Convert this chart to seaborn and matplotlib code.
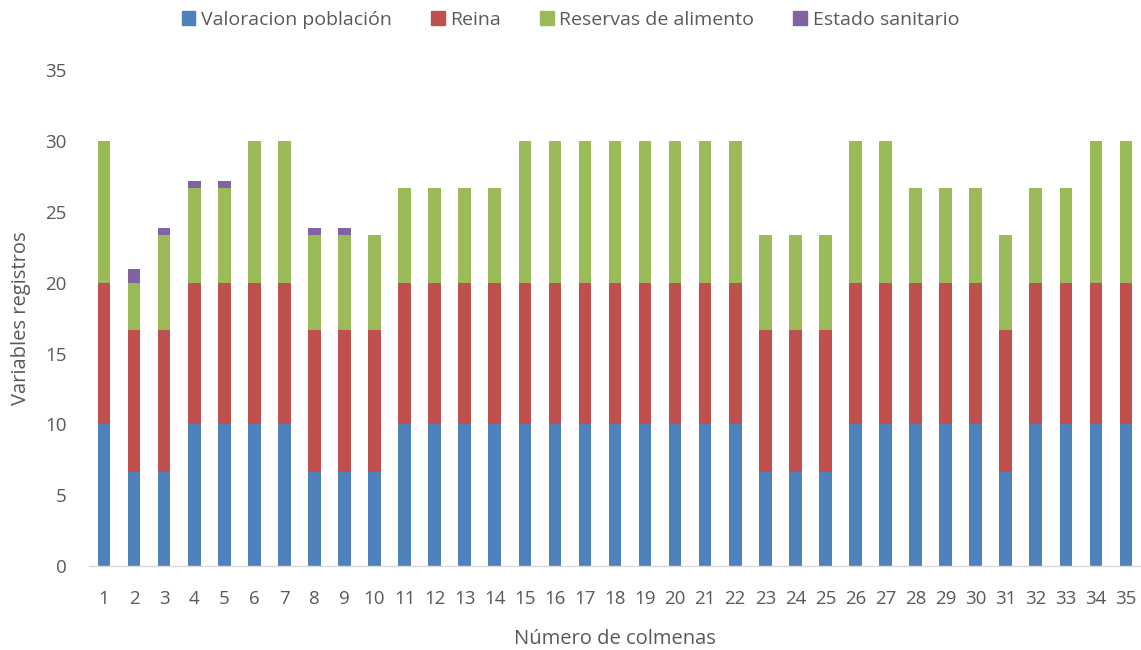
import numpy as np
import pandas as pd
import matplotlib
matplotlib.use("Agg")
import matplotlib.pyplot as plt
from matplotlib.patches import Patch
import seaborn as sns

# Data
colmenas = list(range(1, 36))
valoracion = [10, 6.67, 6.67, 10, 10, 10, 10, 6.67, 6.67, 6.67,
              10, 10, 10, 10, 10, 10, 10, 10, 10, 10,
              10, 10, 6.67, 6.67, 6.67, 10, 10, 10, 10, 10,
              6.67, 10, 10, 10, 10]
reina = [10] * 35
reservas = [10, 3.33, 6.67, 6.67, 6.67, 10, 10, 6.67, 6.67, 6.67,
            6.67, 6.67, 6.67, 6.67, 10, 10, 10, 10, 10, 10,
            10, 10, 6.67, 6.67, 6.67, 10, 10, 6.67, 6.67, 6.67,
            6.67, 6.67, 6.67, 10, 10]
sanitario = [0, 1, 0.5, 0.5, 0.5, 0, 0, 0.5, 0.5, 0,
             0, 0, 0, 0, 0, 0, 0, 0, 0, 0,
             0, 0, 0, 0, 0, 0, 0, 0, 0, 0,
             0, 0, 0, 0, 0]

series = ["Valoracion población", "Reina", "Reservas de alimento", "Estado sanitario"]
colors = ["#4F81BD", "#C0504D", "#9BBB59", "#8064A2"]

df = pd.DataFrame({"colmena": [str(c) for c in colmenas],
                   series[0]: valoracion, series[1]: reina,
                   series[2]: reservas, series[3]: sanitario})
cum = df[series].cumsum(axis=1)

sns.set_style("white")
plt.rcParams["font.family"] = ["Open Sans", "DejaVu Sans"]
text_color = "#595959"

fig, ax = plt.subplots(figsize=(11.41, 6.5), dpi=100)
fig.subplots_adjust(left=0.078, right=1.0, top=0.892, bottom=0.129)

# draw cumulative totals from top down so each layer covers the one above
for name, color in reversed(list(zip(series, colors))):
    sns.barplot(x=df["colmena"], y=cum[name], color=color, width=0.42,
                saturation=1, ax=ax, linewidth=0)

ax.set_xlim(-0.5, 34.5)
ax.set_ylim(0, 35)
ax.set_yticks(range(0, 36, 5))
for s in ["top", "right", "left"]:
    ax.spines[s].set_visible(False)
ax.spines["bottom"].set_color("#D9D9D9")
ax.spines["bottom"].set_linewidth(1)

ax.set_xticks(np.arange(-0.5, 35, 1), minor=True)
ax.tick_params(axis="x", which="minor", length=7, color="#D9D9D9", width=1)
ax.tick_params(axis="x", which="major", length=0, pad=17, labelsize=13.5, labelcolor=text_color)
ax.tick_params(axis="y", length=0, pad=16, labelsize=13.5, labelcolor=text_color)

ax.set_xlabel("Número de colmenas", fontsize=14.5, color=text_color, labelpad=15)
ax.set_ylabel("Variables registros", fontsize=14.5, color=text_color, labelpad=10)

handles = [Patch(color=c, label=n) for n, c in zip(series, colors)]
fig.legend(handles=handles, loc="upper center", bbox_to_anchor=(0.5, 1.01),
           ncol=4, frameon=False, fontsize=14, labelcolor=text_color,
           handlelength=0.7, handleheight=0.7, handletextpad=0.3, columnspacing=2.0)

fig.savefig("out.png", dpi=100)
